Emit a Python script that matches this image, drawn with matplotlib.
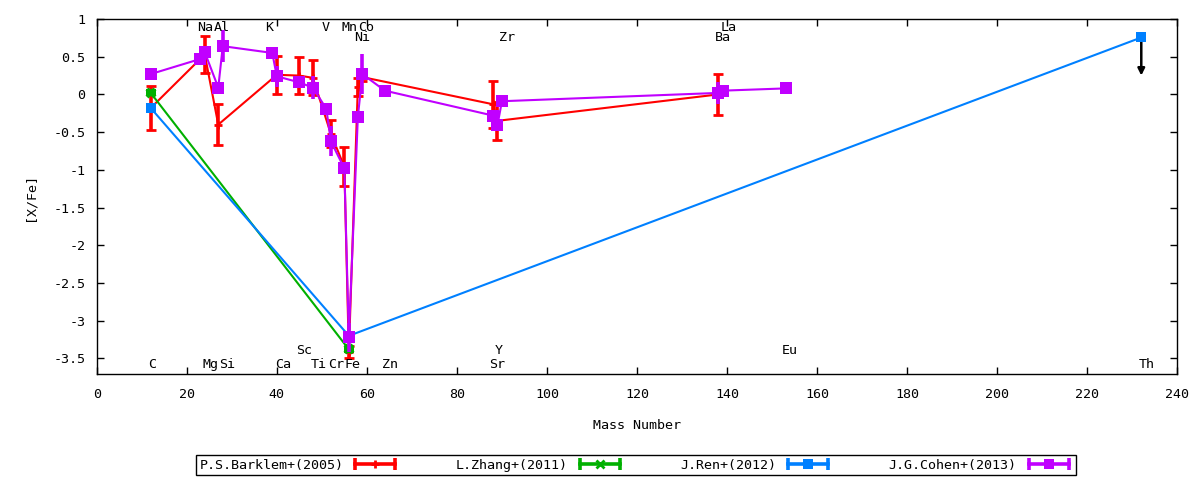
import matplotlib
matplotlib.use("Agg")
import matplotlib.pyplot as plt
from matplotlib.lines import Line2D
from matplotlib.legend_handler import HandlerLine2D
from matplotlib.ticker import FuncFormatter, MultipleLocator

# ---------------- data ----------------
red_x = [12, 24, 27, 40, 45, 48, 52, 55, 56, 58, 59, 88, 89, 138]
red_y = [-0.18, 0.53, -0.40, 0.26, 0.25, 0.22, -0.52, -0.96, -3.42, 0.10, 0.23, -0.13, -0.35, 0.00]
red_e = [0.29, 0.24, 0.27, 0.25, 0.25, 0.23, 0.18, 0.26, 0.08, 0.12, 0.05, 0.31, 0.25, 0.27]

green_x = [12, 56]
green_y = [0.02, -3.38]
green_e = [0.02, 0.02]

blue_x = [12, 56, 232]
blue_y = [-0.18, -3.20, 0.755]
blue_e = [0.0, 0.0, 0.0]

purple_x = [12, 23, 24, 27, 28, 39, 40, 45, 48, 51, 52, 55, 56, 58, 59, 64, 88, 89, 90, 138, 139, 153]
purple_y = [0.27, 0.47, 0.56, 0.09, 0.64, 0.55, 0.24, 0.16, 0.09, -0.19, -0.62, -0.98, -3.22, -0.30,
            0.27, 0.05, -0.28, -0.41, -0.09, 0.02, 0.05, 0.08]
purple_e = [0.0, 0.0, 0.08, 0.0, 0.21, 0.0, 0.14, 0.0, 0.15, 0.0, 0.20, 0.0, 0.19, 0.0,
            0.27, 0.0, 0.05, 0.05, 0.0, 0.15, 0.0, 0.05]

th_upper_limit_end = 0.25  # tip of the upper-limit arrow for Th

elem_names = ['C', 'Na', 'Mg', 'Al', 'Si', 'K', 'Ca', 'Sc', 'Ti', 'V', 'Cr', 'Mn', 'Fe', 'Co', 'Ni',
              'Zn', 'Sr', 'Y', 'Zr', 'Ba', 'La', 'Eu', 'Th']
elem_x = [12.3, 24.0, 25.2, 27.8, 28.9, 38.2, 41.3, 46.0, 49.4, 50.9, 53.1, 56.1, 56.9, 59.8, 59.0,
          65.1, 88.9, 89.4, 91.1, 139.0, 140.3, 154.0, 233.3]
elem_y = [-3.58, 0.89, -3.58, 0.89, -3.58, 0.89, -3.58, -3.40, -3.58, 0.89, -3.58, 0.89, -3.58, 0.89,
          0.75, -3.58, -3.58, -3.40, 0.75, 0.75, 0.89, -3.40, -3.58]

series_labels = ['P.S.Barklem+(2005)', 'L.Zhang+(2011)', 'J.Ren+(2012)', 'J.G.Cohen+(2013)']
colors = ['#ff0000', '#00b000', '#0080ff', '#c000ff']

# ---------------- style ----------------
plt.rcParams['font.family'] = ['DejaVu Sans Mono', 'DejaVu Sans']
plt.rcParams['font.size'] = 9.6
plt.rcParams['axes.unicode_minus'] = False

fig = plt.figure(figsize=(12, 4.8), dpi=100)
ax = fig.add_axes([96.7 / 1200, 1 - 374.3 / 480, (1177.3 - 96.7) / 1200, (374.3 - 19.0) / 480])

lw = 1.5
ax.errorbar(red_x, red_y, yerr=red_e, color=colors[0], lw=lw, elinewidth=2.6, capsize=3.5,
            capthick=2.6, marker='+', markersize=6, markeredgewidth=2, zorder=2)
ax.errorbar(green_x, green_y, yerr=green_e, color=colors[1], lw=lw, elinewidth=2.6, capsize=3.5,
            capthick=2.6, marker='x', markersize=6, markeredgewidth=3, zorder=3)
ax.errorbar(blue_x, blue_y, yerr=blue_e, color=colors[2], lw=lw, elinewidth=2.6, capsize=3.5,
            capthick=2.6, marker='s', markersize=7.5, markeredgewidth=0, zorder=4)
ax.errorbar(purple_x, purple_y, yerr=purple_e, color=colors[3], lw=lw, elinewidth=2.6, capsize=3.5,
            capthick=2.6, marker='s', markersize=8.5, markeredgewidth=0, zorder=5)

# upper-limit arrow for Th
ax.annotate('', xy=(blue_x[-1], th_upper_limit_end), xytext=(blue_x[-1], blue_y[-1]),
            arrowprops=dict(arrowstyle='-|>', color='black', lw=1.8, mutation_scale=10,
                            shrinkA=0, shrinkB=0), zorder=3.5)

for n, x, y in zip(elem_names, elem_x, elem_y):
    ax.text(x, y, n, ha='center', va='center', fontsize=9.6, zorder=6)

ax.set_xlim(0, 240)
ax.set_ylim(-3.71, 1.0)
ax.xaxis.set_major_locator(MultipleLocator(20))
ax.yaxis.set_major_locator(MultipleLocator(0.5))
ax.yaxis.set_major_formatter(FuncFormatter(lambda v, p: '%g' % round(v, 3)))
ax.xaxis.set_major_formatter(FuncFormatter(lambda v, p: '%g' % v))
ax.tick_params(direction='in', top=True, right=True, length=5, width=1)
ax.tick_params(axis='x', pad=10)
ax.tick_params(axis='y', pad=8)
for s in ax.spines.values():
    s.set_linewidth(1)

ax.set_xlabel('Mass Number', labelpad=13)
ax.set_ylabel('[X/Fe]', labelpad=12)

# legend (gnuplot style: text, then sample with caps)
handles = []
hmap = {}
markers = ['+', 'x', 's', 's']
msizes = [6, 6, 7, 7]
for c, m, ms in zip(colors, markers, msizes):
    caps = Line2D([], [], color=c, lw=2.6, marker='|', markersize=8, markeredgewidth=2.6)
    center = Line2D([], [], color=c, lw=0, marker=m, markersize=ms,
                    markeredgewidth=(2 if m in '+x' else 0))
    hmap[caps] = HandlerLine2D(numpoints=2)
    hmap[center] = HandlerLine2D(numpoints=1)
    handles.append((caps, center))

leg = fig.legend(handles, series_labels, handler_map=hmap, loc='lower left',
                 bbox_to_anchor=(196 / 1200, 5 / 480, 880 / 1200, 20 / 480), mode='expand',
                 ncol=4, markerfirst=False, handlelength=3.6, handletextpad=0.6,
                 borderpad=0.25, borderaxespad=0, fancybox=False, edgecolor='black',
                 framealpha=1, fontsize=9.6)
leg.get_frame().set_linewidth(1)

fig.savefig('out.png', dpi=100)
